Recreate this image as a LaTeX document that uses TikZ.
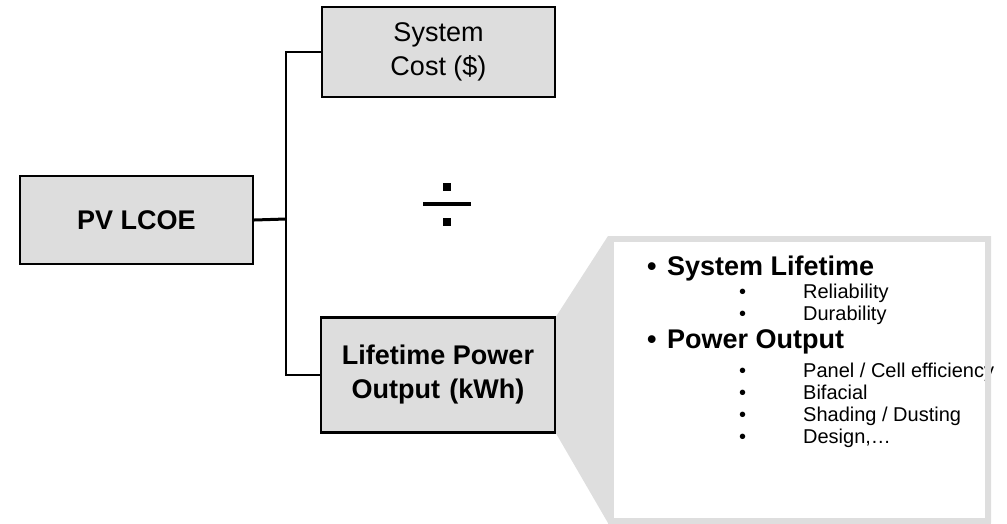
\documentclass[tikz,border=0pt]{standalone}
\usepackage{fontspec}
\setmainfont{Liberation Sans}
\usepackage{tikz}
\usetikzlibrary{calc,positioning}

\definecolor{boxgray}{HTML}{DDDDDD}
\definecolor{callgray}{HTML}{DEDEDE}

\tikzset{
  pvbox/.style={draw=black,line width=2.4pt,fill=boxgray,align=center,inner sep=0pt,font=\fontsize{27}{34}\selectfont},
  wire/.style={draw=black,line width=2.2pt},
  headtext/.style={anchor=base west,inner sep=0pt,font=\fontsize{27}{30}\selectfont\bfseries},
  subtext/.style={anchor=base west,inner sep=0pt,font=\fontsize{20}{24}\selectfont}
}
\newcommand{\pvbullet}[2]{\makebox[#1][l]{\textbullet}#2}

\begin{document}
\begin{tikzpicture}[x=1pt,y=-1pt]
            \useasboundingbox (0,0) rectangle (1007,523);

            \node[pvbox,minimum width=233pt,minimum height=88pt] (lcoe) at (136.5,220) {\bfseries PV LCOE};
            \node[pvbox,minimum width=233pt,minimum height=90pt] (cost) at (438.5,52) {System\\Cost (\$)};
            \node[pvbox,minimum width=234pt,minimum height=115pt] (output) at (438,375) {\bfseries Lifetime Power\\\bfseries Output\hspace{0.35em}(kWh)};

            % branches
            \coordinate (jn) at (286,219);
            \draw[wire,line width=3pt] (lcoe.east) -- (jn);
            \draw[wire,line cap=rect] (cost.west) -| (jn) |- (output.west);

            % divide sign
            \fill (423,202) rectangle (471,206);
            \fill (443,183) rectangle (451,191);
            \fill (443,218) rectangle (451,226);

            % callout
            \fill[callgray] (output.north east) -- (608,236) -- (991,236) -- (991,523) -- (608,523) -- (output.south east) -- cycle;
            \fill[white] (614,242) rectangle (985,518);

            \node[headtext] (lifetime) at (647,275) {\pvbullet{20pt}{System Lifetime}};
            \node[subtext] (reliab) at (739,298) {\pvbullet{64pt}{Reliability}};
            \node[subtext] (durab) at (739,320) {\pvbullet{64pt}{Durability}};
            \node[headtext] (powerout) at (647,348) {\pvbullet{20pt}{Power Output}};
            \node[subtext] (panel) at (739,377) {\pvbullet{64pt}{Panel / Cell efficiency}};
            \node[subtext] (bifac) at (739,399) {\pvbullet{64pt}{Bifacial}};
            \node[subtext] (shading) at (739,421) {\pvbullet{64pt}{Shading / Dusting}};
            \node[subtext] (design) at (739,443) {\pvbullet{64pt}{Design,\dots}};

            \draw[callgray,line width=6pt] (611,239) rectangle (988,520.5);
        \end{tikzpicture}
\end{document}
